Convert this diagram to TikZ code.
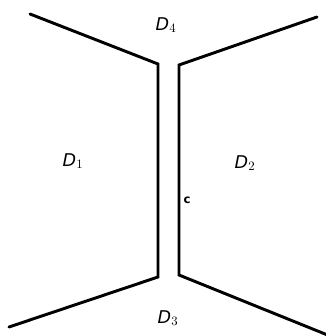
\documentclass[tikz,border=0pt]{standalone}
\usepackage{fontspec}
\setsansfont{DejaVu Sans}
\begin{document}
\begin{tikzpicture}[x=0.03cm,y=-0.03cm,line width=2.5pt,
    wall/.style={line join=miter,line cap=round},
    region/.style={font=\sffamily\itshape\fontsize{15}{17}\selectfont}]
\useasboundingbox (0,0) rectangle (325,336);
% left wall
\coordinate (lt) at (30,14);
\coordinate (lu) at (158,64);
\coordinate (ld) at (158,277);
\coordinate (lb) at (9,327);
% right wall
\coordinate (rt) at (317,17);
\coordinate (ru) at (179,65);
\coordinate (rd) at (179,275);
\coordinate (rb) at (330,336);

\draw[wall] (lt) -- (lu) -- (ld) -- (lb);
\draw[wall] (rt) -- (ru) -- (rd) -- (rb);

\node[region] (d4) at (166,25) {D$_4$};
\node[region] (d1) at (73,161) {D$_1$};
\node[region] (d2) at (245,163) {D$_2$};
\node[region] (d3) at (168,318) {D$_3$};
\node[font=\sffamily\bfseries\fontsize{10}{12}\selectfont] (c) at (187,200) {c};
\end{tikzpicture}
\end{document}
